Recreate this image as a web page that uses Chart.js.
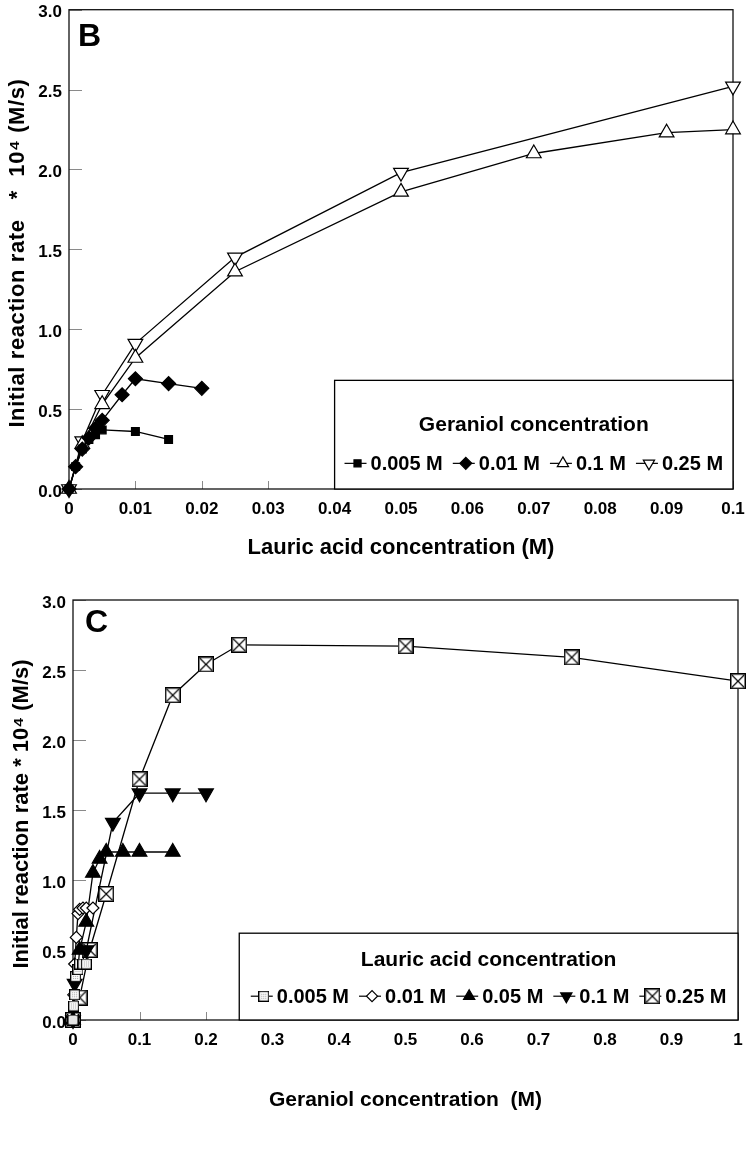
<!DOCTYPE html>
<html>
<head>
<meta charset="utf-8">
<title>Initial reaction rate vs. substrate concentration</title>
<script src="https://cdn.jsdelivr.net/npm/chart.js@4"></script>
<style>
  html, body { margin: 0; padding: 0; background: #fff; }
  body { width: 748px; height: 1158px; overflow: hidden; }
  canvas { display: block; }
</style>
</head>
<body>
<canvas id="chartB" width="748" height="560"></canvas>
<canvas id="chartC" width="748" height="598"></canvas>
<script>
// ---- Panel B: rate vs lauric acid concentration, one series per geraniol level ----
const lauricB_0005 = [0, 0.001, 0.002, 0.003, 0.004, 0.005, 0.01, 0.015];
const rateB_0005   = [0, 0.14, 0.25, 0.31, 0.34, 0.37, 0.36, 0.31];
const lauricB_001  = [0, 0.001, 0.002, 0.003, 0.004, 0.005, 0.008, 0.01, 0.015, 0.02];
const rateB_001    = [0, 0.14, 0.25, 0.32, 0.38, 0.43, 0.59, 0.69, 0.66, 0.63];
const lauricB_01   = [0, 0.002, 0.005, 0.01, 0.025, 0.05, 0.07, 0.09, 0.1];
const rateB_01     = [0, 0.28, 0.53, 0.82, 1.36, 1.86, 2.1, 2.23, 2.25];
const lauricB_025  = [0, 0.002, 0.005, 0.01, 0.025, 0.05, 0.1];
const rateB_025    = [0, 0.3, 0.59, 0.91, 1.45, 1.98, 2.52];
const labelsB = ['0.005 M', '0.01 M', '0.1 M', '0.25 M'];

// ---- Panel C: rate vs geraniol concentration, one series per lauric acid level ----
const geraniolC_0005 = [0, 0.001, 0.0025, 0.004, 0.0075, 0.01, 0.015, 0.02];
const rateC_0005     = [0, 0.1, 0.18, 0.31, 0.36, 0.4, 0.4, 0.4];
const geraniolC_001  = [0, 0.001, 0.0025, 0.005, 0.0075, 0.01, 0.015, 0.02, 0.03];
const rateC_001      = [0, 0.18, 0.4, 0.59, 0.76, 0.79, 0.8, 0.8, 0.8];
const geraniolC_005  = [0, 0.01, 0.02, 0.03, 0.04, 0.05, 0.075, 0.1, 0.15];
const rateC_005      = [0, 0.5, 0.7, 1.05, 1.15, 1.2, 1.2, 1.2, 1.2];
const geraniolC_01   = [0, 0.0025, 0.02, 0.06, 0.1, 0.15, 0.2];
const rateC_01       = [0, 0.26, 0.5, 1.41, 1.62, 1.62, 1.62];
const geraniolC_025  = [0, 0.01, 0.025, 0.05, 0.1, 0.15, 0.2, 0.25, 0.5, 0.75, 1];
const rateC_025      = [0, 0.16, 0.5, 0.9, 1.72, 2.32, 2.54, 2.68, 2.67, 2.59, 2.42];
const labelsC = ['0.005 M', '0.01 M', '0.05 M', '0.1 M', '0.25 M'];

const FONT = '"Liberation Sans", Arial, Helvetica, sans-serif';

// zip two arrays into {x, y} points
function toPoints(xs, ys) {
    return xs.map((x, i) => ({ x: x, y: ys[i] }));
}

// small canvas markers for the styles Chart.js doesn't have
function makeBoxX(size) {
    const c = document.createElement('canvas');
    c.width = c.height = size;
    const g = c.getContext('2d');
    g.fillStyle = '#fff';
    g.fillRect(0, 0, size, size);
    g.strokeStyle = '#000';
    g.lineWidth = 1.5;
    g.strokeRect(0.75, 0.75, size - 1.5, size - 1.5);
    g.lineWidth = 1.1;
    g.beginPath();
    g.moveTo(2, 2); g.lineTo(size - 2, size - 2);
    g.moveTo(size - 2, 2); g.lineTo(2, size - 2);
    g.stroke();
    return c;
}

function makeDottedBox(size) {
    const c = document.createElement('canvas');
    c.width = c.height = size;
    const g = c.getContext('2d');
    g.fillStyle = '#fff';
    g.fillRect(0, 0, size, size);
    g.fillStyle = '#9a9a9a';
    for (let i = 3; i < size - 2; i += 2) {
        for (let j = 3; j < size - 2; j += 2) g.fillRect(i, j, 1, 1);
    }
    g.strokeStyle = '#000';
    g.lineWidth = 1.2;
    g.strokeRect(0.6, 0.6, size - 1.2, size - 1.2);
    return c;
}

// rotated / tracked text helper for the axis titles
function drawLabel(ctx, text, x, y, rotate, size, spacing) {
    ctx.save();
    ctx.translate(x, y);
    if (rotate) ctx.rotate(-Math.PI / 2);
    ctx.font = 'bold ' + size + 'px ' + FONT;
    if ('letterSpacing' in ctx) ctx.letterSpacing = spacing + 'px';
    ctx.fillStyle = '#000';
    ctx.textAlign = 'center';
    ctx.textBaseline = 'middle';
    ctx.fillText(text, spacing / 2, 0);
    ctx.restore();
}

// frame around the plot, inward tick marks, panel letter, axis titles
const framePlugin = {
    id: 'frame',
    beforeDatasetsDraw(chart) {
        const { ctx, chartArea: a, scales: { x, y } } = chart;
        ctx.save();
        ctx.strokeStyle = '#8a8a8a';
        ctx.lineWidth = 1;
        ctx.beginPath();
        y.ticks.forEach(t => {
            const py = Math.round(y.getPixelForValue(t.value)) + 0.5;
            ctx.moveTo(a.left, py);
            ctx.lineTo(a.left + 13, py);
        });
        x.ticks.forEach(t => {
            const px = Math.round(x.getPixelForValue(t.value)) + 0.5;
            ctx.moveTo(px, a.bottom);
            ctx.lineTo(px, a.bottom - 8);
        });
        ctx.stroke();
        ctx.strokeStyle = '#111';
        ctx.lineWidth = 1.3;
        ctx.strokeRect(a.left, a.top, a.right - a.left, a.bottom - a.top);
        ctx.restore();
    },
    afterDraw(chart, args, opts) {
        const { ctx, chartArea: a } = chart;
        ctx.save();
        ctx.fillStyle = '#000';
        ctx.font = 'bold 32px ' + FONT;
        ctx.textBaseline = 'alphabetic';
        ctx.fillText(opts.letter, a.left + opts.dx, a.top + opts.dy);
        ctx.restore();
        const t = opts.titles;
        drawLabel(ctx, t.x, (a.left + a.right) / 2, t.xPos, false, t.xSize, t.xSpacing);
        drawLabel(ctx, t.y, t.yPos, (a.top + a.bottom) / 2 + t.yShift, true, t.ySize, t.ySpacing);
    }
};

// boxed legend sitting in the lower right of the plot
const boxLegend = {
    id: 'boxLegend',
    afterDatasetsDraw(chart, args, opts) {
        if (!opts.title) return;
        const { ctx, chartArea: a, scales: { x, y } } = chart;
        const left = x.getPixelForValue(opts.fromX);
        const top = y.getPixelForValue(opts.topY);
        ctx.save();
        ctx.fillStyle = '#fff';
        ctx.fillRect(left, top, a.right - left, a.bottom - top);
        ctx.strokeStyle = '#000';
        ctx.lineWidth = 1.3;
        ctx.strokeRect(left, top, a.right - left, a.bottom - top);

        const cx = (left + a.right) / 2;
        ctx.fillStyle = '#000';
        ctx.textAlign = 'center';
        ctx.textBaseline = 'middle';
        ctx.font = 'bold 21px ' + FONT;
        ctx.fillText(opts.title, cx, top + opts.titleOffset);

        ctx.font = 'bold 20px ' + FONT;
        const sym = 22, gapSym = 4, gapItem = 10;
        const items = chart.data.datasets.map(ds => ({ ds: ds, w: ctx.measureText(ds.label).width }));
        const total = items.reduce((s, it) => s + sym + gapSym + it.w, 0) + gapItem * (items.length - 1);
        let px = cx - total / 2;
        const py = top + opts.itemOffset;
        ctx.textAlign = 'left';
        items.forEach(({ ds, w }) => {
            ctx.strokeStyle = '#000';
            ctx.lineWidth = 1.2;
            ctx.beginPath();
            ctx.moveTo(px, py);
            ctx.lineTo(px + sym, py);
            ctx.stroke();
            ctx.fillStyle = ds.pointBackgroundColor;
            Chart.helpers.drawPoint(ctx, {
                pointStyle: ds.legendStyle || ds.pointStyle,
                rotation: ds.pointRotation || 0,
                radius: ds.legendRadius || 5,
                borderWidth: 1.2
            }, px + sym / 2 + 2, py);
            ctx.fillStyle = '#000';
            ctx.fillText(ds.label, px + sym + gapSym, py + 1);
            px += sym + gapSym + w + gapItem;
        });
        ctx.restore();
    }
};

function lineSet(label, xs, ys, style) {
    return Object.assign({
        label: label,
        data: toPoints(xs, ys),
        borderColor: '#000',
        borderWidth: 1.3,
        pointBorderColor: '#000',
        pointBorderWidth: 1.2,
        pointBackgroundColor: '#000',
        pointRadius: 5,
        tension: 0,
        clip: false
    }, style);
}

function buildChart(id, cfg) {
    return new Chart(document.getElementById(id), {
        type: 'line',
        data: { datasets: cfg.datasets },
        options: {
            responsive: false,
            animation: false,
            layout: { padding: cfg.padding },
            plugins: {
                legend: { display: false },
                tooltip: { enabled: false },
                frame: cfg.frame,
                boxLegend: cfg.legend
            },
            scales: {
                x: {
                    type: 'linear',
                    min: 0,
                    max: cfg.xMax,
                    // fixed axis height; edge labels may hang over the padding
                    afterFit: s => { s.height = cfg.xHeight; s.paddingLeft = 0; s.paddingRight = 0; },
                    grid: { display: false, drawTicks: false, tickLength: 0 },
                    border: { display: false },
                    ticks: {
                        stepSize: cfg.xStep,
                        autoSkip: false,
                        maxRotation: 0,
                        padding: cfg.xTickPad,
                        color: '#000',
                        font: { family: FONT, size: 17, weight: 'bold', lineHeight: 1 },
                        callback: v => String(Number(v.toFixed(3)))
                    }
                },
                y: {
                    min: 0,
                    max: 3,
                    afterFit: s => { s.width = cfg.yWidth; s.paddingTop = 0; s.paddingBottom = 0; },
                    grid: { display: false, drawTicks: false, tickLength: 0 },
                    border: { display: false },
                    ticks: {
                        stepSize: 0.5,
                        padding: 7,
                        labelOffset: 3,
                        color: '#000',
                        font: { family: FONT, size: 17, weight: 'bold', lineHeight: 1 },
                        callback: v => v.toFixed(1)
                    }
                }
            }
        },
        plugins: [framePlugin, boxLegend]
    });
}

window.addEventListener('load', () => {
    buildChart('chartB', {
        datasets: [
            lineSet(labelsB[0], lauricB_0005, rateB_0005, { pointStyle: 'rect', pointRadius: 5.5, legendRadius: 5 }),
            lineSet(labelsB[1], lauricB_001, rateB_001, { pointStyle: 'rectRot', pointRadius: 7, legendRadius: 6 }),
            lineSet(labelsB[2], lauricB_01, rateB_01, { pointStyle: 'triangle', pointRadius: 8.5, pointBackgroundColor: '#fff', legendRadius: 6.5 }),
            lineSet(labelsB[3], lauricB_025, rateB_025, { pointStyle: 'triangle', pointRotation: 180, pointRadius: 8.5, pointBackgroundColor: '#fff', legendRadius: 6.5 })
        ],
        padding: { top: 9, right: 15, left: 0, bottom: 0 },
        xMax: 0.1, xStep: 0.01, xHeight: 71, xTickPad: 12,
        yWidth: 69,
        frame: {
            letter: 'B', dx: 9, dy: 36,
            titles: {
                x: 'Lauric acid concentration (M)', xPos: 548, xSize: 22, xSpacing: 0,
                y: 'Initial reaction rate   *  10\u2074 (M/s)', yPos: 18, yShift: 4, ySize: 22, ySpacing: 0.6
            }
        },
        legend: { title: 'Geraniol concentration', fromX: 0.04, topY: 0.68, titleOffset: 45, itemOffset: 83 }
    });

    const boxX = makeBoxX(16);
    const dotBox = makeDottedBox(11);
    buildChart('chartC', {
        datasets: [
            lineSet(labelsC[0], geraniolC_0005, rateC_0005, { pointStyle: dotBox, pointBackgroundColor: '#fff' }),
            lineSet(labelsC[1], geraniolC_001, rateC_001, { pointStyle: 'rectRot', pointRadius: 6, pointBackgroundColor: '#fff', legendRadius: 5.5 }),
            lineSet(labelsC[2], geraniolC_005, rateC_005, { pointStyle: 'triangle', pointRadius: 8.5, legendRadius: 6.5 }),
            lineSet(labelsC[3], geraniolC_01, rateC_01, { pointStyle: 'triangle', pointRotation: 180, pointRadius: 8.5, legendRadius: 6.5 }),
            lineSet(labelsC[4], geraniolC_025, rateC_025, { pointStyle: boxX, pointBackgroundColor: '#fff' })
        ],
        padding: { top: 40, right: 10, left: 0, bottom: 45 },
        xMax: 1, xStep: 0.1, xHeight: 93, xTickPad: 12,
        yWidth: 73,
        frame: {
            letter: 'C', dx: 12, dy: 32,
            titles: {
                x: 'Geraniol concentration  (M)', xPos: 540, xSize: 21, xSpacing: 0,
                y: 'Initial reaction rate * 10\u2074 (M/s)', yPos: 22, yShift: 4, ySize: 22, ySpacing: 0
            }
        },
        legend: { title: 'Lauric acid concentration', fromX: 0.25, topY: 0.62, titleOffset: 27, itemOffset: 63 }
    });
});
</script>
</body>
</html>
